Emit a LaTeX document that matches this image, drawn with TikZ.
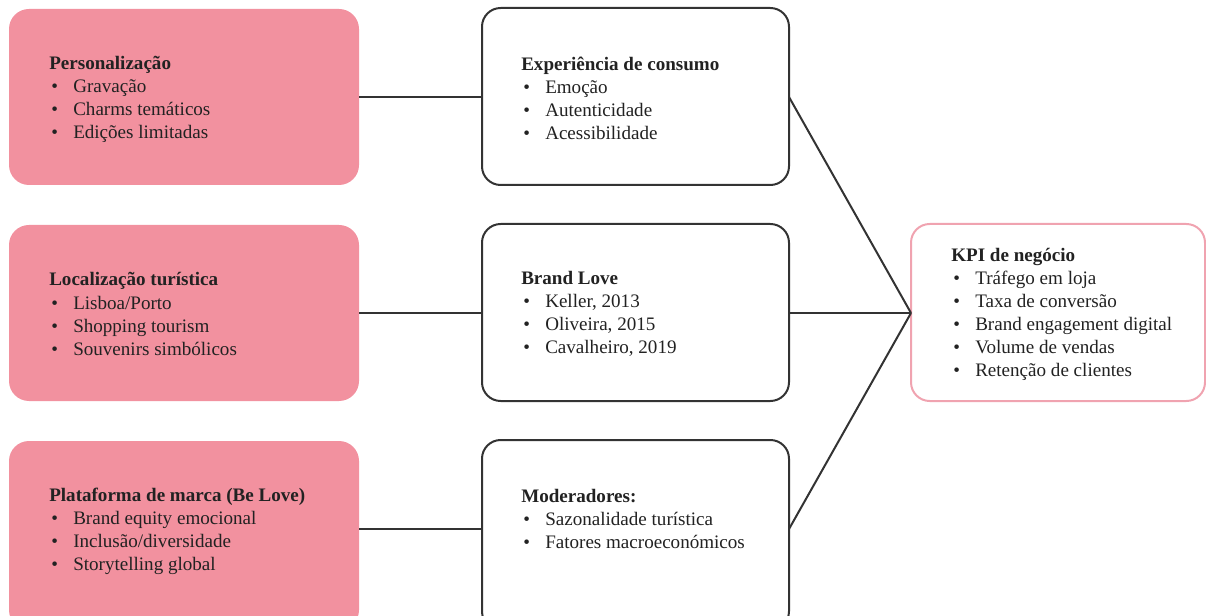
\documentclass[tikz,border=0pt]{standalone}
\usepackage{fontspec}
\setmainfont{Liberation Serif}
\definecolor{pinkfill}{HTML}{F2919F}
\definecolor{pinkline}{HTML}{F0A3B0}
\definecolor{linecol}{HTML}{333333}
\definecolor{txtcol}{HTML}{222222}
\newcommand{\itm}[1]{\makebox[18pt][l]{\hspace{1.5pt}\textbullet}#1}
\tikzset{
  pinkbox/.style={fill=pinkfill, draw=none, rounded corners=15pt},
  whitebox/.style={fill=white, draw=linecol, line width=1.5pt, rounded corners=14pt},
  kpibox/.style={fill=white, draw=pinkline, line width=1.5pt, rounded corners=14pt},
  txt/.style={anchor=west, align=left, inner sep=0pt, text=txtcol,
    font={\fontsize{14.3pt}{17.3pt}\selectfont}},
  conn/.style={draw=linecol, line width=1.5pt}
}
\begin{document}
\begin{tikzpicture}[x=0.75pt,y=-0.75pt]
\useasboundingbox (0,0) rectangle (1206,616);
% left boxes
\path[pinkbox] (9,9) rectangle (359,185);
\path[pinkbox] (9,225) rectangle (359,401);
\path[pinkbox] (9,441) rectangle (359,630);
\coordinate (L1) at (359,97);
\coordinate (L2) at (359,313);
\coordinate (L3) at (359,529);
% middle boxes
\draw[whitebox] (482,8) rectangle (789,185);
\draw[whitebox] (482,224) rectangle (789,401);
\draw[whitebox] (482,440) rectangle (789,630);
\coordinate (M1w) at (482,97);
\coordinate (M2w) at (482,313);
\coordinate (M3w) at (482,529);
\coordinate (M1e) at (789,97);
\coordinate (M2e) at (789,313);
\coordinate (M3e) at (789,529);
% KPI box
\draw[kpibox] (911,224) rectangle (1205,401);
\coordinate (Kw) at (911,313);
% connectors
\draw[conn] (L1) -- (M1w);
\draw[conn] (L2) -- (M2w);
\draw[conn] (L3) -- (M3w);
\draw[conn] (M1e) -- (Kw);
\draw[conn] (M2e) -- (Kw);
\draw[conn] (M3e) -- (Kw);
% texts
\node[txt] (t1) at (49,99) {\textbf{Personalização}\\\itm{Gravação}\\\itm{Charms temáticos}\\\itm{Edições limitadas}};
\node[txt] (t2) at (49,314) {\textbf{Localização turística}\\\itm{Lisboa/Porto}\\\itm{Shopping tourism}\\\itm{Souvenirs simbólicos}};
\node[txt] (t3) at (49,531) {\textbf{Plataforma de marca (Be Love)}\\\itm{Brand equity emocional}\\\itm{Inclusão/diversidade}\\\itm{Storytelling global}};
\node[txt] (t4) at (521,98) {\textbf{Experiência de consumo}\\\itm{Emoção}\\\itm{Autenticidade}\\\itm{Acessibilidade}};
\node[txt] (t5) at (521,314) {\textbf{Brand Love}\\\itm{Keller, 2013}\\\itm{Oliveira, 2015}\\\itm{Cavalheiro, 2019}};
\node[txt] (t6) at (521,519) {\textbf{Moderadores:}\\\itm{Sazonalidade turística}\\\itm{Fatores macroeconómicos}};
\node[txt] (t7) at (951,314.5) {\textbf{KPI de negócio}\\\itm{Tráfego em loja}\\\itm{Taxa de conversão}\\\itm{Brand engagement digital}\\\itm{Volume de vendas}\\\itm{Retenção de clientes}};
\end{tikzpicture}
\end{document}
